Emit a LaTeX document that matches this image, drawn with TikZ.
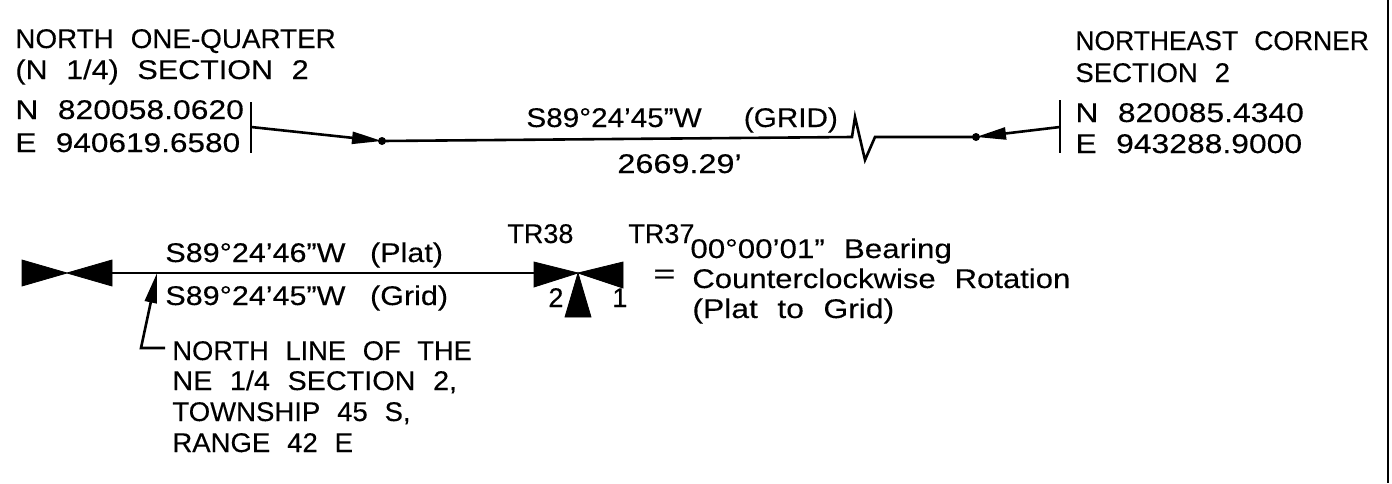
\documentclass[tikz,border=0pt]{standalone}
\usepackage{fontspec}
\setmainfont[WordSpace=2.2]{Liberation Sans}
\usetikzlibrary{arrows.meta}
\tikzset{
    lab/.style = {anchor = base west, inner sep = 0pt, font = \fontsize{13.5}{15}\selectfont\addfontfeatures{FakeStretch=#1, FakeBold=0.25}},
    lab/.default = 1.02,
    wire/.style = {line width = 1.3pt},
    head/.style = {-{Triangle[length = 15pt, width = 6pt]}},
    solid bow/.style = {fill = black, draw = black, line width = 0.4pt, line join = miter}
}
\begin{document}
\begin{tikzpicture}[x=0.5pt, y=-0.5pt]
    \useasboundingbox (0,0) rectangle (1392,483);
    % top traverse
    \coordinate (TickLa) at (251,102);
    \coordinate (TickLb) at (251,153);
    \coordinate (TickRa) at (1060,100);
    \coordinate (TickRb) at (1060,153);
    \coordinate (StartL) at (251,127);
    \coordinate (StartR) at (1060,127);
    \coordinate (DotL) at (382,141);
    \coordinate (DotR) at (976,137);
    \coordinate (BreakA) at (852,137);
    \coordinate (BreakB) at (855,117);
    \coordinate (BreakC) at (865,160);
    \coordinate (BreakD) at (875,137);
    \draw [wire] (TickLa) -- (TickLb);
    \draw [wire] (TickRa) -- (TickRb);
    \draw [wire, head] (StartL) -- (DotL);
    \draw [wire, head] (StartR) -- (DotR);
    \draw [wire] (DotL) -- (BreakA) -- (BreakB) -- (BreakC) -- (BreakD) -- (DotR);
    \fill (DotL) circle (4);
    \fill (DotR) circle (4);
    \node (NorthA) at (15,48) [lab=1.03] {NORTH ONE-QUARTER};
    \node (NorthB) at (15,79) [lab=1.13] {(N 1/4) SECTION 2};
    \node (NorthC) at (15,119) [lab=1.18] {N 820058.0620};
    \node (NorthD) at (15,152) [lab=1.17] {E 940619.6580};
    \node (EastA) at (1075,50) [lab=0.98] {NORTHEAST CORNER};
    \node (EastB) at (1075,82) [lab] {SECTION 2};
    \node (EastC) at (1075,122) [lab=1.18] {N 820085.4340};
    \node (EastD) at (1075,153) [lab=1.18] {E 943288.9000};
    \node (TopBearing) at (526,127) [lab=1.1] {S89°24'45"W\hspace{12pt} (GRID)};
    \node (TopDist) at (617,173) [lab=1.2] {2669.29'};
    % lower line and symbols
    \coordinate (BowL) at (67,273);
    \coordinate (Mid) at (578,273);
    \coordinate (LeftEnd) at (112,273);
    \coordinate (RightEnd) at (534,273);
    \draw [wire] (LeftEnd) -- (RightEnd);
    \fill [solid bow] (22,260) -- (BowL) -- (22,286) -- cycle;
    \fill [solid bow] (112,260) -- (BowL) -- (112,286) -- cycle;
    \fill [solid bow] (534,262) -- (Mid) -- (534,287) -- cycle;
    \fill [solid bow] (623,262) -- (Mid) -- (623,288) -- cycle;
    \fill [solid bow] (565,317) -- (Mid) -- (591,317) -- cycle;
    \node (Plat) at (165,262) [lab=1.13] {S89°24'46"W\hspace{3pt} (Plat)};
    \node (Grid) at (165,305) [lab=1.13] {S89°24'45"W\hspace{3pt} (Grid)};
    \node (TRa) at (507,243) [lab=1] {TR38};
    \node (TRb) at (628,243) [lab=1] {TR37};
    \node (NumTwo) at (548,307) [lab=1] {2};
    \node (NumOne) at (612,307) [lab=1] {1};
    \node (Equal) at (653,283) [lab=1.4] {=};
    \node (RotA) at (690,258) [lab=1.16] {00°00'01" Bearing};
    \node (RotB) at (692,288) [lab=1.15] {Counterclockwise Rotation};
    \node (RotC) at (692,318) [lab=1.18] {(Plat to Grid)};
    % leader to the north line
    \coordinate (LeadTip) at (157,273);
    \coordinate (LeadKnee) at (141,348);
    \coordinate (LeadEnd) at (165,348);
    \draw [wire, head] (LeadEnd) -- (LeadKnee) -- (LeadTip);
    \node (LineA) at (172,360) [lab=1.01] {NORTH LINE OF THE};
    \node (LineB) at (172,390) [lab=1.066] {NE 1/4 SECTION 2,};
    \node (LineC) at (172,421) [lab] {TOWNSHIP 45 S,};
    \node (LineD) at (172,452) [lab] {RANGE 42 E};
    % right frame edge
    \coordinate (FrameA) at (1388,0);
    \coordinate (FrameB) at (1388,483);
    \draw [wire] (FrameA) -- (FrameB);
\end{tikzpicture}
\end{document}
